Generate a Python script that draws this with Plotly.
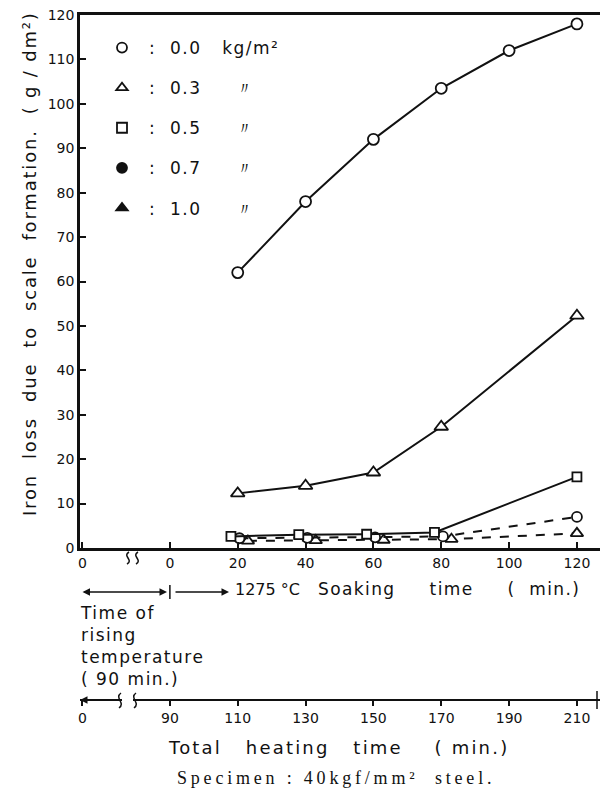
import plotly.graph_objects as go

# ---------------- data ----------------
soak_00 = [20, 40, 60, 80, 100, 120]
loss_00 = [62, 78, 92, 103.5, 112, 118]
soak_03 = [20, 40, 60, 80, 120]
loss_03 = [12.3, 14, 17, 27.3, 52.3]
soak_05 = [18, 38, 58, 78, 120]
loss_05 = [2.6, 3.0, 3.1, 3.5, 16]
soak_07 = [20.5, 40.5, 60.5, 80.5, 120]
loss_07 = [2.2, 2.3, 2.4, 2.6, 7.0]
soak_10 = [23, 43, 63, 83, 120]
loss_10 = [1.6, 1.7, 1.8, 2.0, 3.3]

legend_labels = ["0.0", "0.3", "0.5", "0.7", "1.0"]
legend_units = ["kg/m²", "〃", "〃", "〃", "〃"]
legend_symbols = ["circle-open", "triangle-up-open", "square-open", "circle", "triangle-up"]

rise_pos = -25.8          # start of heating, placed on the soak-time axis
soak_ticks = [rise_pos, 0, 20, 40, 60, 80, 100, 120]
soak_ticktext = ["0", "0", "20", "40", "60", "80", "100", "120"]
total_ticktext = ["0", "90", "110", "130", "150", "170", "190", "210"]
y_ticks = list(range(0, 121, 10))

FONT = "DejaVu Sans"
BLACK = "#111111"
NB = "\u00a0"
XR = [-26.5, 126.8]

def ls(text, px):
    return '<span style="letter-spacing:%spx">%s</span>' % (px, text)

fig = go.Figure()

def series(x, y, symbol, dash, size):
    fig.add_trace(go.Scatter(
        x=x, y=y, mode="lines+markers", showlegend=False,
        line=dict(color=BLACK, width=2, dash=dash),
        marker=dict(symbol=symbol, size=size, color="white",
                    line=dict(color=BLACK, width=1.8)),
        cliponaxis=False,
    ))

series(soak_10, loss_10, "triangle-up", "dash", 11)
series(soak_07, loss_07, "circle", "dash", 10)
series(soak_05, loss_05, "square", "solid", 9)
series(soak_03, loss_03, "triangle-up", "solid", 12)
series(soak_00, loss_00, "circle", "solid", 11)

# legend-only entries (marker only)
for lab, unit, sym in zip(legend_labels, legend_units, legend_symbols):
    gap = NB * 3 if unit == "kg/m²" else NB * 5
    txt = ls(NB + ":" + NB * 2 + lab + gap + unit, 1.5)
    fig.add_trace(go.Scatter(
        x=[None], y=[None], mode="markers", name=txt, legendgroup=lab,
        marker=dict(symbol=sym, size=10, color=BLACK, line=dict(color=BLACK, width=1.8)),
    ))

# carrier for the lower (total heating time) axis
fig.add_trace(go.Scatter(x=[None], y=[None], xaxis="x2", yaxis="y", showlegend=False))

OFF = 8                       # browser body margin
W, H = 608 - OFF, 794 - OFF
L, R, T = 80 - OFF, 8, 15 - OFF
BOT = 700 - OFF               # lower axis line
B = H - BOT
plot_h = BOT - T
y0_px = 548
ydom0 = (700 - y0_px) / plot_h
plot_w = W - L - R

def py(pixel):   # window pixel y -> paper y
    return (700 - pixel) / plot_h

def pxp(pixel):  # window pixel x -> paper x
    return (pixel - 80) / plot_w

def dx(pixel):   # window pixel x -> soak-axis value
    return XR[0] + (pixel - 80) / plot_w * (XR[1] - XR[0])

fig.update_layout(
    width=W, height=H,
    margin=dict(l=L, r=R, t=T, b=B, autoexpand=False),
    paper_bgcolor="white", plot_bgcolor="white",
    font=dict(family=FONT, color=BLACK, size=14),
    xaxis=dict(
        range=XR, anchor="y",
        tickvals=soak_ticks, ticktext=soak_ticktext,
        ticks="inside", ticklen=6, tickwidth=1.5, tickcolor=BLACK,
        showline=True, linewidth=2.5, linecolor=BLACK, mirror=True,
        showgrid=False, zeroline=False, ticklabeloverflow="allow",
        tickfont=dict(size=14, family=FONT),
    ),
    xaxis2=dict(
        range=XR, overlaying="x", anchor="free", position=0,
        side="bottom",
        tickvals=soak_ticks, ticktext=total_ticktext,
        ticks="outside", ticklen=5, tickwidth=1.5, tickcolor=BLACK,
        showline=True, linewidth=1.5, linecolor=BLACK,
        showgrid=False, zeroline=False, ticklabeloverflow="allow",
        tickfont=dict(size=14, family=FONT),
    ),
    yaxis=dict(
        range=[0, 120], domain=[ydom0, 1],
        tickvals=y_ticks,
        ticks="inside", ticklen=6, tickwidth=1.5, tickcolor=BLACK,
        showline=True, linewidth=2.5, linecolor=BLACK, mirror=True,
        showgrid=False, zeroline=False, ticklabeloverflow="allow",
        tickfont=dict(size=14, family=FONT),
    ),
    legend=dict(
        x=pxp(102), y=py(30), xanchor="left", yanchor="top",
        bgcolor="rgba(0,0,0,0)", borderwidth=0,
        font=dict(size=17, family=FONT),
        traceorder="grouped", tracegroupgap=15,
        itemwidth=30,
    ),
)

ann = []
# y-axis title
ann.append(dict(
    text=ls("Iron" + NB * 2 + "loss" + NB * 2 + "due" + NB * 2 + "to" + NB * 2 + "scale" + NB * 2
            + "formation." + NB * 2 + "(" + NB + "g" + NB + "/" + NB + "dm²)", 1.8),
    xref="paper", yref="paper", x=pxp(30), y=py(264),
    textangle=-90, showarrow=False, font=dict(size=18, family=FONT),
    xanchor="center", yanchor="middle",
))
# arrow row below soak axis
ann.append(dict(text="", xref="x", yref="paper", x=dx(167), y=py(592),
                ax=-86, ay=0, axref="pixel", ayref="pixel",
                showarrow=True, arrowhead=2, arrowsize=1, arrowwidth=1.5,
                arrowside="end+start", arrowcolor=BLACK))
ann.append(dict(text="", xref="x", yref="paper", x=dx(229), y=py(592),
                ax=-55, ay=0, showarrow=True, arrowhead=2, arrowsize=1,
                arrowwidth=1.5, arrowcolor=BLACK))
ann.append(dict(text="1275" + NB + "°C",
                xref="x", yref="paper", x=dx(233), y=py(589), xanchor="left",
                yanchor="middle", showarrow=False, font=dict(size=16, family=FONT)))
ann.append(dict(text=ls("Soaking" + NB * 5 + "time" + NB * 5 + "(" + NB * 2 + "min.)", 1.4),
                xref="x", yref="paper", x=dx(316), y=py(589), xanchor="left",
                yanchor="middle", showarrow=False, font=dict(size=17, family=FONT)))
# time of rising temperature
ann.append(dict(text=ls("Time" + NB + "of", 1.5) + "<br>" + ls("rising", 1.5) + "<br>"
                + ls("temperature", 1.5) + "<br>" + ls("(" + NB + "90" + NB + "min.)", 1.5),
                xref="paper", yref="paper", x=pxp(78), y=py(601), xanchor="left",
                yanchor="top", align="left", showarrow=False,
                font=dict(size=17, family=FONT)))
# lower axis left arrow
ann.append(dict(text="", xref="x", yref="paper", x=XR[0], y=0,
                ax=30, ay=0, showarrow=True, arrowhead=2, arrowsize=1,
                arrowwidth=1.5, arrowcolor=BLACK))
# lower axis title
ann.append(dict(text=ls("Total" + NB * 3 + "heating" + NB * 3 + "time" + NB * 4 + "(" + NB + "min.)", 2.2),
                xref="paper", yref="paper", x=pxp(338), y=py(747),
                xanchor="center", yanchor="middle", showarrow=False,
                font=dict(size=18, family=FONT)))
ann.append(dict(text=ls("Specimen" + NB + ":" + NB + "40kgf/mm²" + NB * 2 + "steel.", 3.8),
                xref="paper", yref="paper", x=pxp(336), y=py(778),
                xanchor="center", yanchor="middle", showarrow=False,
                font=dict(size=18, family="Liberation Serif")))
fig.update_layout(annotations=ann)

def curl(px_x, top, bottom, swing):
    mid1 = top + (bottom - top) / 3
    mid2 = top + 2 * (bottom - top) / 3
    return ("M %f,%f C %f,%f %f,%f %f,%f" %
            (dx(px_x + 1), py(top), dx(px_x - swing), py(mid1), dx(px_x + swing), py(mid2),
             dx(px_x - 1), py(bottom)))

shapes = []
# separator bar at start of soaking, end bar of lower axis
shapes.append(dict(type="line", xref="x", yref="paper", x0=0, x1=0, y0=py(585), y1=py(599),
                   line=dict(color=BLACK, width=1.5)))
shapes.append(dict(type="line", xref="x", yref="paper", x0=dx(597), x1=dx(597), y0=py(691), y1=py(709),
                   line=dict(color=BLACK, width=1.5)))
# break marks on soak axis
for bx in (128, 137):
    shapes.append(dict(type="path", xref="x", yref="paper", path=curl(bx, 552, 564, 6),
                       line=dict(color=BLACK, width=1.5)))
# break on the lower axis
shapes.append(dict(type="line", xref="x", yref="paper", x0=dx(122), x1=dx(133), y0=0, y1=0,
                   line=dict(color="white", width=4)))
for bx in (120, 135):
    shapes.append(dict(type="path", xref="x", yref="paper", path=curl(bx, 693, 708, 6),
                       line=dict(color=BLACK, width=1.5)))
fig.update_layout(shapes=shapes)

fig.write_html("out.html")
